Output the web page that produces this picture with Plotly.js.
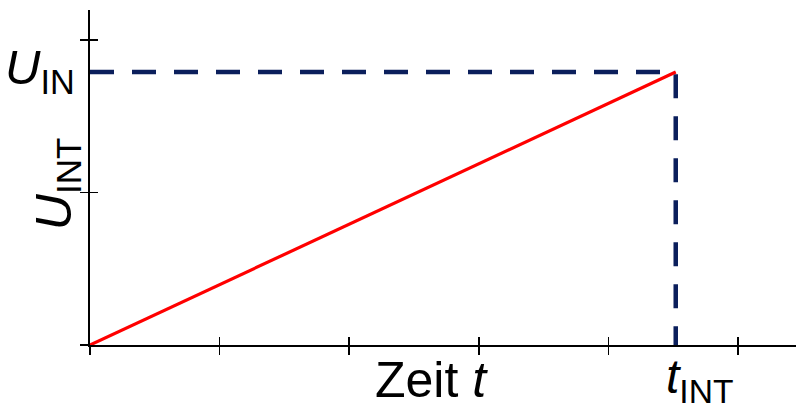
<!DOCTYPE html>
<html>
<head>
<meta charset="utf-8">
<script src="https://cdn.plot.ly/plotly-3.0.1.min.js"></script>
<style>html,body{margin:0;padding:0;background:#fff;}#chart{width:796px;height:407px;}</style>
</head>
<body>
<div id="chart"></div>
<script>
// Data (in axis units: one tick step = 1)
const xTicks = [0, 1, 2, 3, 4, 5];
const yTicks = [0, 1, 2];
const tInt = 4.52;      // integration time t_INT
const uIn = 1.79;       // input voltage U_IN
const rampX = [0, tInt];
const rampY = [0, uIn];
const guideX = [0, tInt, tInt];
const guideY = [uIn, uIn, 0];
const xRange = [0, 5.448];
const yRange = [0, 2.197];

const FONT = 'Liberation Sans, Arial, sans-serif';

const traces = [
  {x: guideX, y: guideY, mode: 'lines', line: {color: '#0b1f5c', width: 4.5, dash: '24px,18px'}, hoverinfo: 'skip'},
  {x: rampX, y: rampY, mode: 'lines', line: {color: '#ff0000', width: 3.2}, hoverinfo: 'skip'},
  {x: [0], y: [0], xaxis: 'x2', yaxis: 'y2', mode: 'markers', marker: {opacity: 0}, hoverinfo: 'skip'}
];

const axBase = {
  showgrid: false, zeroline: false, showticklabels: false,
  tickcolor: '#000', tickwidth: 1.6, ticklen: 8, tickmode: 'array'
};

const layout = {
  width: 796, height: 407,
  margin: {l: 90, r: 0, t: 10, b: 62},
  paper_bgcolor: '#fff', plot_bgcolor: '#fff',
  showlegend: false,
  font: {family: FONT, color: '#000'},
  xaxis: Object.assign({}, axBase, {range: xRange, tickvals: xTicks, ticks: 'outside', showline: true, linecolor: '#000', linewidth: 2}),
  yaxis: Object.assign({}, axBase, {range: yRange, tickvals: yTicks, ticks: 'outside', showline: true, linecolor: '#000', linewidth: 2}),
  xaxis2: Object.assign({}, axBase, {range: xRange, tickvals: xTicks, ticks: 'inside', overlaying: 'x', anchor: 'y2', showline: false}),
  yaxis2: Object.assign({}, axBase, {range: yRange, tickvals: yTicks, ticks: 'inside', overlaying: 'y', anchor: 'x2', showline: false}),
  annotations: [
    {text: '<i>U</i><sub>IN</sub>', xref: 'x', yref: 'y', x: 0, y: uIn, xanchor: 'right', yanchor: 'middle', xshift: -13, yshift: 2, showarrow: false, font: {size: 49, family: FONT}},
    {text: '<i>t</i><sub>INT</sub>', xref: 'x', yref: 'y', x: tInt, y: 0, xanchor: 'left', yanchor: 'top', xshift: -12, yshift: -3, showarrow: false, font: {size: 48, family: FONT}},
    {text: 'Zeit <i>t</i>', xref: 'paper', yref: 'paper', x: 0.484, y: 0, xanchor: 'center', yanchor: 'top', yshift: -5, showarrow: false, font: {size: 50, family: FONT}},
    {text: '<i>U</i><sub>INT</sub>', xref: 'paper', yref: 'paper', x: 0, y: 0.48, xanchor: 'center', yanchor: 'middle', xshift: -33, textangle: -90, showarrow: false, font: {size: 50, family: FONT}}
  ]
};

Plotly.newPlot('chart', traces, layout, {staticPlot: true, displayModeBar: false});
</script>
</body>
</html>
